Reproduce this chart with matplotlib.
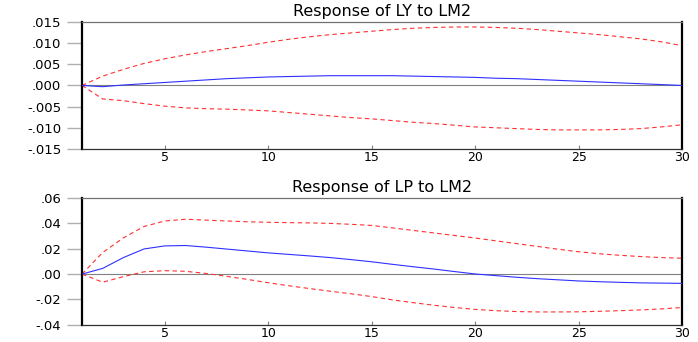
import matplotlib
matplotlib.use("Agg")
import matplotlib.pyplot as plt
from matplotlib.ticker import FuncFormatter, FixedLocator

periods = list(range(1, 31))

ly_resp = [0.0, -0.0003, 0.0001, 0.0004, 0.0007, 0.0010, 0.0013, 0.0016, 0.0018, 0.0020,
           0.0021, 0.0022, 0.0023, 0.0023, 0.0023, 0.0023, 0.0022, 0.0021, 0.0020, 0.0019,
           0.0017, 0.0016, 0.0014, 0.0012, 0.0010, 0.0008, 0.0006, 0.0004, 0.0002, 0.0000]
ly_upper = [0.0, 0.0022, 0.0038, 0.0052, 0.0063, 0.0072, 0.0080, 0.0087, 0.0094, 0.0102,
            0.0109, 0.0115, 0.0120, 0.0124, 0.0128, 0.0132, 0.0135, 0.0137, 0.0138, 0.0138,
            0.0137, 0.0135, 0.0132, 0.0128, 0.0124, 0.0120, 0.0115, 0.0110, 0.0103, 0.0094]
ly_lower = [0.0, -0.0032, -0.0036, -0.0043, -0.0049, -0.0053, -0.0055, -0.0056, -0.0058, -0.0060,
            -0.0064, -0.0068, -0.0072, -0.0076, -0.0079, -0.0083, -0.0087, -0.0090, -0.0094, -0.0098,
            -0.0100, -0.0102, -0.0104, -0.0105, -0.0105, -0.0105, -0.0104, -0.0102, -0.0098, -0.0093]

lp_resp = [0.0, 0.0045, 0.0130, 0.0198, 0.0222, 0.0225, 0.0212, 0.0197, 0.0182, 0.0167,
           0.0155, 0.0143, 0.0130, 0.0114, 0.0097, 0.0077, 0.0058, 0.0040, 0.0020, 0.0001,
           -0.0012, -0.0025, -0.0036, -0.0045, -0.0054, -0.0060, -0.0065, -0.0069, -0.0071, -0.0073]
lp_upper = [0.0, 0.0170, 0.0285, 0.0375, 0.0418, 0.0432, 0.0425, 0.0418, 0.0412, 0.0408,
            0.0405, 0.0403, 0.0399, 0.0392, 0.0383, 0.0364, 0.0344, 0.0324, 0.0304, 0.0284,
            0.0262, 0.0240, 0.0218, 0.0196, 0.0176, 0.0160, 0.0148, 0.0138, 0.0130, 0.0125]
lp_lower = [0.0, -0.0064, -0.0020, 0.0018, 0.0027, 0.0022, 0.0005, -0.0018, -0.0042, -0.0068,
            -0.0092, -0.0114, -0.0135, -0.0155, -0.0177, -0.0203, -0.0225, -0.0245, -0.0263, -0.0278,
            -0.0288, -0.0295, -0.0298, -0.0298, -0.0297, -0.0293, -0.0288, -0.0282, -0.0274, -0.0263]

titles = ["Response of LY to LM2", "Response of LP to LM2"]
ly_yticks = [-0.015, -0.010, -0.005, 0.0, 0.005, 0.010, 0.015]
lp_yticks = [-0.04, -0.02, 0.0, 0.02, 0.04, 0.06]
xticks = [5, 10, 15, 20, 25, 30]

plt.rcParams['font.family'] = ['DejaVu Sans']

fig = plt.figure(figsize=(6.98, 3.42), dpi=100)
ax1 = fig.add_axes([0.1175, 0.5645, 0.8596, 0.3714])
ax2 = fig.add_axes([0.1175, 0.0500, 0.8596, 0.3714])


def fmt_factory(nd):
    def f(v, pos):
        s = f"{abs(v):.{nd}f}"
        if s.startswith("0"):
            s = s[1:]
        if v < -1e-12:
            s = "-" + s
        return s
    return f


panels = [
    (ax1, ly_resp, ly_upper, ly_lower, ly_yticks, 3, titles[0]),
    (ax2, lp_resp, lp_upper, lp_lower, lp_yticks, 2, titles[1]),
]
for ax, resp, up, lo, yt, nd, title in panels:
    ax.axhline(0, color="#808080", lw=0.8, zorder=1)
    ax.plot(periods, up, color="#ff3030", lw=0.8, dashes=(4, 3), zorder=2)
    ax.plot(periods, lo, color="#ff3030", lw=0.8, dashes=(4, 3), zorder=2)
    ax.plot(periods, resp, color="#3030ff", lw=0.8, zorder=3)
    ax.set_xlim(1, 30)
    ax.set_ylim(yt[0], yt[-1])
    ax.yaxis.set_major_locator(FixedLocator(yt))
    ax.xaxis.set_major_locator(FixedLocator(xticks))
    ax.yaxis.set_major_formatter(FuncFormatter(fmt_factory(nd)))
    ax.tick_params(axis="y", direction="out", length=11, width=1.0, color="#b0b0b0",
                   labelsize=9.5, pad=4)
    ax.tick_params(axis="x", direction="in", length=3, width=0.8, color="#808080",
                   labelsize=9, pad=1.5)
    for sp in ["left", "right"]:
        ax.spines[sp].set_linewidth(1.6)
        ax.spines[sp].set_color("black")
    ax.spines["top"].set_color("#707070")
    ax.spines["top"].set_linewidth(0.9)
    ax.spines["bottom"].set_color("#303030")
    ax.spines["bottom"].set_linewidth(0.9)
    ax.set_title(title, fontsize=11.5, pad=4)

fig.savefig("out.png", dpi=100)
